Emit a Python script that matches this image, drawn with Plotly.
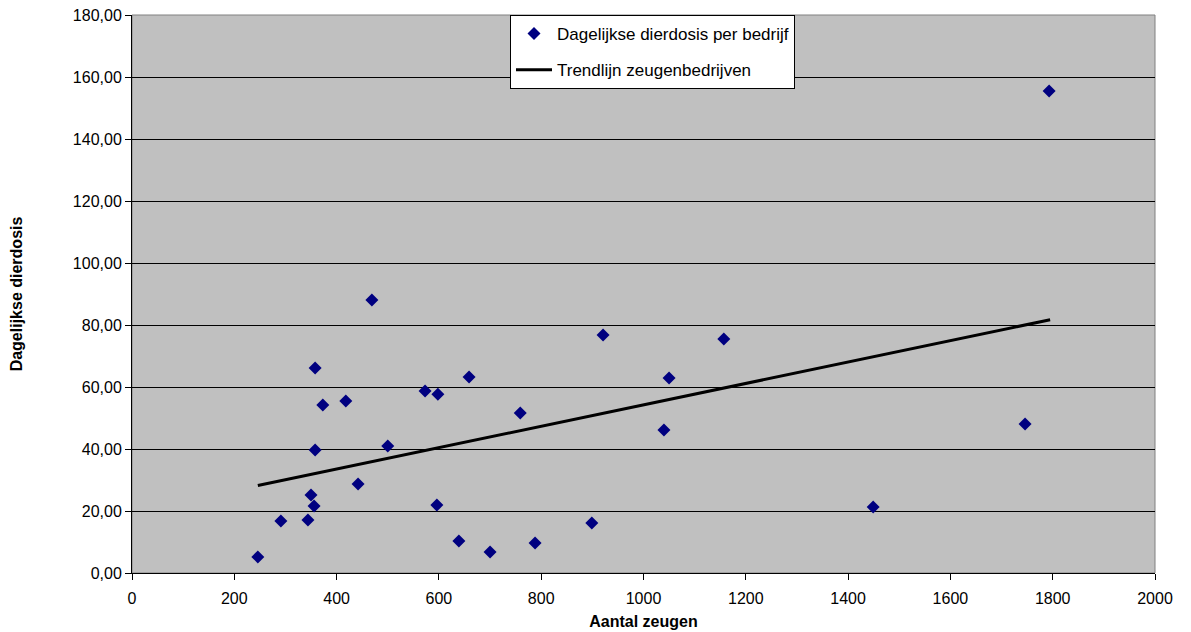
import plotly.graph_objects as go

# Data
zeugen = [246, 291, 344, 350, 356, 358, 358, 373, 418, 442, 469, 500, 573, 598, 596,
          639, 659, 700, 759, 788, 899, 921, 1040, 1050, 1157, 1449, 1746, 1793]
dierdosis = [5.2, 16.8, 17.1, 25.2, 21.6, 66.1, 39.7, 54.2, 55.5, 28.7, 88.1, 41.0, 58.7, 57.7, 21.9,
             10.3, 63.2, 6.8, 51.6, 9.7, 16.1, 76.8, 46.1, 62.9, 75.5, 21.3, 48.1, 155.5]

trend_x = [246, 1795]
trend_y = [28.2, 81.7]

x_ticks = list(range(0, 2001, 200))
y_ticks = list(range(0, 181, 20))

fig = go.Figure()
fig.add_trace(go.Scatter(
    x=zeugen, y=dierdosis, mode="markers",
    name="Dagelijkse dierdosis per bedrijf", legendgroup="a",
    marker=dict(symbol="diamond", size=10, color="#000080"),
))
fig.add_trace(go.Scatter(
    x=trend_x, y=trend_y, mode="lines",
    name="Trendlijn zeugenbedrijven", legendgroup="b",
    line=dict(color="black", width=3),
))

font_family = "Liberation Sans, Arial, sans-serif"

# the page body adds an 8px offset; margins compensate for it
fig.update_layout(
    width=1191, height=632,
    margin=dict(l=124, r=44, t=7, b=67, autoexpand=False),
    paper_bgcolor="white",
    plot_bgcolor="#C0C0C0",
    separators=",.",
    font=dict(family=font_family, size=16, color="black"),
    showlegend=True,
    legend=dict(
        x=0.3695, y=1.0, xanchor="left", yanchor="top",
        bgcolor="white", bordercolor="black", borderwidth=1,
        font=dict(size=17, family=font_family),
        traceorder="grouped", tracegroupgap=11, itemwidth=36,
    ),
    xaxis=dict(
        range=[0, 2000], tickvals=x_ticks, ticks="outside", ticklen=6,
        tickcolor="black", showgrid=False, zeroline=False, automargin=False,
        showline=True, linecolor="black", linewidth=1, mirror=False,
        ticklabelstandoff=5,
        title=dict(text="<b>Aantal zeugen</b>", font=dict(size=16), standoff=9),
        tickfont=dict(size=16),
    ),
    yaxis=dict(
        range=[0, 180], tickvals=y_ticks, tickformat=".2f", ticks="outside", ticklen=6,
        tickcolor="black", showgrid=True, gridcolor="black", gridwidth=1, zeroline=False,
        showline=True, linecolor="black", linewidth=1, automargin=False,
        ticklabeloverflow="allow",
        title=dict(text="<b>Dagelijkse dierdosis</b>", font=dict(size=16), standoff=54),
        tickfont=dict(size=16),
    ),
)

# gray border for top and right edges of plot area
fig.add_shape(type="rect", xref="paper", yref="paper", x0=0, y0=0, x1=1, y1=1,
              line=dict(color="#808080", width=1), layer="below")

fig.write_html("out.html")
